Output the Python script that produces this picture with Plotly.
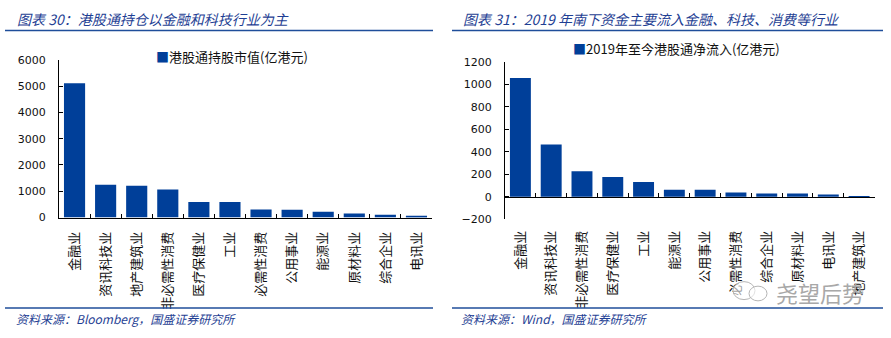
import plotly.graph_objects as go

# Hong Kong Stock Connect holdings by sector (100m HKD)
holdings_sectors = ["金融业", "资讯科技业", "地产建筑业", "非必需性消费", "医疗保健业", "工业",
                    "必需性消费", "公用事业", "能源业", "原材料业", "综合企业", "电讯业"]
holdings_values = [5110, 1250, 1210, 1065, 590, 590, 305, 300, 225, 150, 110, 40]

# Net southbound inflow since 2019 by sector (100m HKD)
inflow_sectors = ["金融业", "资讯科技业", "非必需性消费", "医疗保健业", "工业", "能源业",
                  "公用事业", "必需性消费", "综合企业", "原材料业", "电讯业", "地产建筑业"]
inflow_values = [1058, 465, 226, 175, 131, 63, 63, 37, 28, 28, 20, -12]

left_title = "图表 30：港股通持仓以金融和科技行业为主"
right_title = "图表 31：2019 年南下资金主要流入金融、科技、消费等行业"
left_legend = "港股通持股市值(亿港元)"
right_legend = "2019年至今港股通净流入(亿港元)"
left_source = "资料来源：Bloomberg，国盛证券研究所"
right_source = "资料来源：Wind，国盛证券研究所"
watermark = "尧望后势"

W, H = 891, 338
BAR = "#003F99"
BLUE = "#1F3F94"
CJK = "Noto Sans CJK SC"
NUM = "DejaVu Sans"


def px(x):
    return x / W


def py(y):
    return 1 - y / H


left_dom_x = [px(59), px(432)]
left_dom_y = [py(220), py(56)]
right_dom_x = [px(505), px(874.5)]
right_dom_y = [py(221.7), py(58.3)]
right_range = [-200, 1200]
zero_pos = right_dom_y[0] + (right_dom_y[1] - right_dom_y[0]) * (0 - right_range[0]) / (right_range[1] - right_range[0])

fig = go.Figure()

fig.add_trace(go.Bar(x=holdings_sectors, y=holdings_values, marker_color=BAR,
                     marker_line_width=0, xaxis="x", yaxis="y", showlegend=False,
                     hoverinfo="x+y"))
fig.add_trace(go.Bar(x=inflow_sectors, y=inflow_values, marker_color=BAR,
                     marker_line_width=0, xaxis="x2", yaxis="y2", showlegend=False,
                     hoverinfo="x+y"))
# carrier for the bottom label axis of the right panel
fig.add_trace(go.Scatter(x=inflow_sectors, y=[0] * len(inflow_sectors), mode="markers",
                         marker=dict(opacity=0), xaxis="x3", yaxis="y2",
                         showlegend=False, hoverinfo="skip"))

tick_font = dict(family=NUM, size=11, color="#111111")
cat_font = dict(family=CJK, size=13, color="#111111")
n = len(holdings_sectors)

fig.update_layout(
    width=W, height=H,
    margin=dict(l=0, r=0, t=0, b=0),
    paper_bgcolor="white", plot_bgcolor="white",
    bargap=0.32,
    xaxis=dict(domain=left_dom_x, anchor="y", type="category",
               categoryorder="array", categoryarray=holdings_sectors,
               range=[-0.5, n - 0.5],
               showline=True, linecolor="black", linewidth=1,
               ticks="inside", tickson="boundaries", ticklen=4, tickcolor="black",
               tickangle=-90, tickfont=cat_font, ticklabelstandoff=8,
               showgrid=False, zeroline=False),
    yaxis=dict(domain=left_dom_y, anchor="x", range=[0, 6000], dtick=1000,
               showline=True, linecolor="black", linewidth=1,
               ticks="inside", ticklen=4, tickcolor="black",
               tickfont=tick_font, ticklabelstandoff=10,
               showgrid=False, zeroline=False),
    xaxis2=dict(domain=right_dom_x, anchor="free", position=zero_pos, type="category",
                categoryorder="array", categoryarray=inflow_sectors,
                range=[-0.5, n - 0.5],
                showline=True, linecolor="black", linewidth=1,
                ticks="inside", tickson="boundaries", ticklen=4, tickcolor="black",
                showticklabels=False, showgrid=False, zeroline=False),
    xaxis3=dict(domain=right_dom_x, anchor="y2", overlaying="x2", type="category",
                categoryorder="array", categoryarray=inflow_sectors,
                range=[-0.5, n - 0.5], side="bottom",
                showline=False, ticks="", tickangle=-90, tickfont=cat_font,
                ticklabelstandoff=8, showgrid=False, zeroline=False),
    yaxis2=dict(domain=right_dom_y, anchor="x3", range=right_range, dtick=200,
                position=right_dom_x[0],
                showline=True, linecolor="black", linewidth=1,
                ticks="inside", ticklen=4, tickcolor="black",
                tickfont=tick_font, ticklabelstandoff=10,
                showgrid=False, zeroline=False),
)

# titles, legends, sources and watermark
annotations = [
    dict(text=f"<i>{left_title}</i>", x=px(15), y=py(14), font=dict(family=CJK, size=14, color=BLUE)),
    dict(text=f"<i>{right_title}</i>", x=px(461), y=py(14), font=dict(family=CJK, size=14, color=BLUE)),
    dict(text=f"<span style='color:{BAR}'>■</span>{left_legend}", x=px(154), y=py(53),
         font=dict(family=CJK, size=13, color="#111111")),
    dict(text=f"<span style='color:{BAR}'>■</span>{right_legend}", x=px(571), y=py(44),
         font=dict(family=CJK, size=13, color="#111111")),
    dict(text=f"<i>{left_source}</i>", x=px(14), y=py(325), font=dict(family=CJK, size=12, color=BLUE)),
    dict(text=f"<i>{right_source}</i>", x=px(459), y=py(325), font=dict(family=CJK, size=12, color=BLUE)),
    dict(text=watermark, x=px(774), y=py(297), font=dict(family=CJK, size=22, color="#A8A8A8")),
]
for a in annotations:
    fig.add_annotation(xref="paper", yref="paper", xanchor="left", yanchor="middle",
                       showarrow=False, **a)

rule = dict(color="#1F4E9A", width=1.5)
for x0, x1 in ((5, 433), (452, 883)):
    fig.add_shape(type="line", xref="paper", yref="paper", x0=px(x0), x1=px(x1),
                  y0=py(25.5), y1=py(25.5), line=rule)
    fig.add_shape(type="line", xref="paper", yref="paper", x0=px(x0), x1=px(x1),
                  y0=py(314), y1=py(314), line=rule)

# wechat-style badge beside the watermark
for cx, cy, r in ((744, 296, 11), (758, 299, 9)):
    fig.add_shape(type="circle", xref="paper", yref="paper",
                  x0=px(cx - r), x1=px(cx + r), y0=py(cy + r * 0.85), y1=py(cy - r * 0.85),
                  line=dict(color="#B5B5B5", width=1), fillcolor="rgba(255,255,255,0.6)")

fig.write_html("out.html")
